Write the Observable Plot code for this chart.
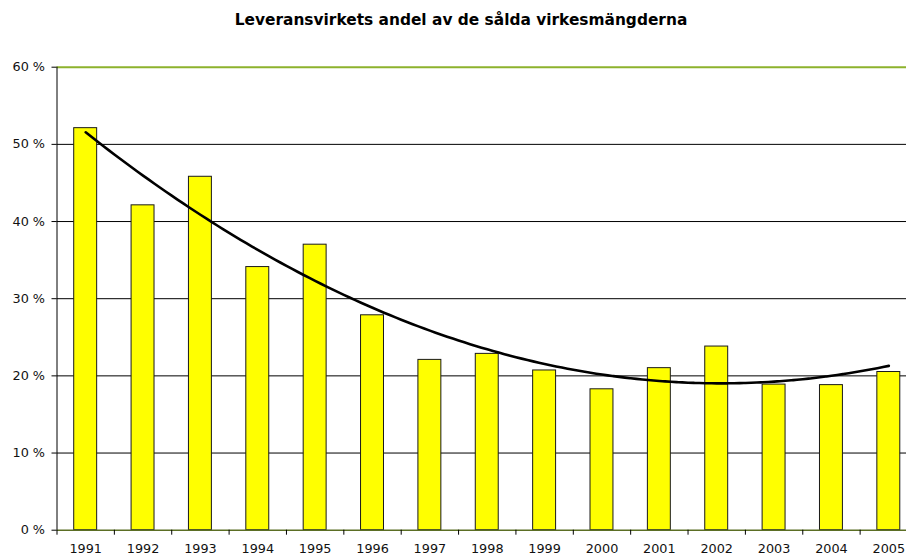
<!DOCTYPE html>
<html>
<head>
<meta charset="utf-8">
<script src="https://cdn.jsdelivr.net/npm/d3@7"></script>
<script src="https://cdn.jsdelivr.net/npm/@observablehq/plot@0.6"></script>
<style>
  html, body { margin: 0; padding: 0; background: #fff; overflow: hidden; }
  #title { width: 906px; height: 40px; box-sizing: border-box; padding-left: 16px; padding-top: 11px;
    text-align: center; font: bold 15.4px "DejaVu Sans", Verdana, sans-serif; color: #000; line-height: 19px; }
  svg { display: block; }
</style>
</head>
<body>
<div id="title">Leveransvirkets andel av de sålda virkesmängderna</div>
<div id="chart"></div>
<script>
const years = [1991,1992,1993,1994,1995,1996,1997,1998,1999,2000,2001,2002,2003,2004,2005];
const shares = [52.1,42.1,45.8,34.1,37.0,27.85,22.07,22.85,20.7,18.26,21.0,23.8,18.87,18.8,20.5];
const yTicks = [0,10,20,30,40,50,60];
const gridLevels = [10,20,30,40,50];

const data = years.map((year, i) => ({year, value: shares[i]}));

// Second-order polynomial trendline (least squares), as in the original spreadsheet chart
function quadFit(xs, ys) {
  let s = Array(5).fill(0), t = Array(3).fill(0);
  xs.forEach((x, i) => {
    for (let k = 0; k < 5; k++) s[k] += Math.pow(x, k);
    for (let k = 0; k < 3; k++) t[k] += ys[i] * Math.pow(x, k);
  });
  const A = [[s[0], s[1], s[2], t[0]], [s[1], s[2], s[3], t[1]], [s[2], s[3], s[4], t[2]]];
  for (let c = 0; c < 3; c++) {
    for (let r = c + 1; r < 3; r++) {
      const f = A[r][c] / A[c][c];
      for (let k = c; k < 4; k++) A[r][k] -= f * A[c][k];
    }
  }
  const b = [0, 0, 0];
  for (let r = 2; r >= 0; r--) {
    let v = A[r][3];
    for (let k = r + 1; k < 3; k++) v -= A[r][k] * b[k];
    b[r] = v / A[r][r];
  }
  return b;
}
const idx = years.map((y, i) => i);
const coef = quadFit(idx, shares);
const trend = d3.range(0, 14.001, 0.1).map(i => ({year: years[0] + i, value: coef[0] + coef[1] * i + coef[2] * i * i}));

const font = '"DejaVu Sans", Verdana, sans-serif';
const chart = Plot.plot({
  width: 906,
  height: 515,
  marginLeft: 56.5,
  marginRight: 0,
  marginTop: 26.7,
  marginBottom: 25.3,
  style: {fontFamily: font, fontSize: "12.8px", color: "#111", background: "#fff"},
  x: {domain: [years[0] - 0.5, years[years.length - 1] + 0.5], range: [56.5, 917]},
  y: {domain: [0, 60]},
  marks: [
    Plot.ruleY(gridLevels, {stroke: "#000", strokeWidth: 1}),
    Plot.rectY(data, {x1: d => d.year - 0.2, x2: d => d.year + 0.2, y1: 0, y2: "value", fill: "#ffff00", stroke: "#1a1a1a", strokeWidth: 1}),
    Plot.ruleY([60], {stroke: "#8db22c", strokeWidth: 2}),
    Plot.ruleY([0], {stroke: "#5b6e24", strokeWidth: 1.5}),
    Plot.ruleX([years[0] - 0.5], {y1: 0, y2: 60, stroke: "#000", strokeWidth: 1}),
    Plot.line(trend, {x: "year", y: "value", stroke: "#000", strokeWidth: 2.6, curve: "natural"}),
    Plot.axisY({ticks: yTicks, tickFormat: d => d + " %", tickSize: 5, tickPadding: 7, label: null, stroke: "#000"}),
    Plot.axisX({ticks: d3.range(years[0] - 0.5, years[years.length - 1] + 1, 1), tickFormat: () => "", tickSize: 5, label: null, stroke: "#000"}),
    Plot.axisX({ticks: years, tickFormat: d => String(d), tickSize: 0, tickPadding: 13.3, label: null})
  ]
});
document.getElementById("chart").appendChild(chart);
</script>
</body>
</html>
